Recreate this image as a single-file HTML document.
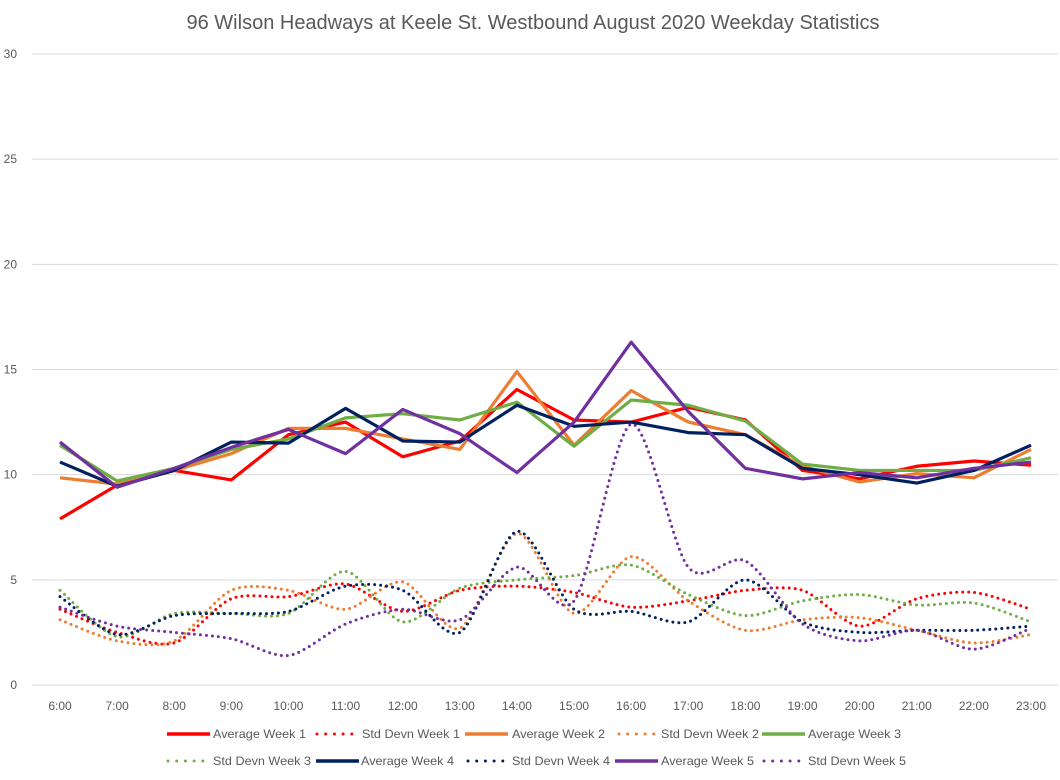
<!DOCTYPE html>
<html><head><meta charset="utf-8"><style>
body{margin:0;background:#fff;font-family:"Liberation Sans",Arial,sans-serif;}
svg text{font-family:"Liberation Sans",Arial,sans-serif;fill:#595959;}
</style></head><body>
<svg id="chart" width="1060" height="775" viewBox="0 0 1060 775" xmlns="http://www.w3.org/2000/svg">
<text x="533" y="29" text-anchor="middle" font-size="20">96 Wilson Headways at Keele St. Westbound August 2020 Weekday Statistics</text>
<g id="grid"></g><g id="series"></g><g id="legend"></g>
</svg>
<script>
const categories=["6:00","7:00","8:00","9:00","10:00","11:00","12:00","13:00","14:00","15:00","16:00","17:00","18:00","19:00","20:00","21:00","22:00","23:00"];
const yTicks=[0,5,10,15,20,25,30];
const avgWeek1=[7.9,9.5,10.2,9.75,11.9,12.5,10.85,11.6,14.05,12.6,12.5,13.2,12.6,10.2,9.8,10.4,10.65,10.45];
const avgWeek2=[9.85,9.55,10.2,11.0,12.2,12.2,11.7,11.2,14.9,11.4,14.0,12.5,11.9,10.4,9.65,10.05,9.85,11.2];
const avgWeek3=[11.4,9.7,10.3,11.2,11.7,12.7,12.9,12.6,13.45,11.35,13.55,13.3,12.55,10.5,10.2,10.2,10.2,10.8];
const avgWeek4=[10.6,9.45,10.2,11.55,11.5,13.15,11.6,11.55,13.3,12.3,12.5,12.0,11.9,10.3,10.0,9.6,10.2,11.4];
const avgWeek5=[11.55,9.4,10.3,11.3,12.15,11.0,13.1,11.95,10.1,12.5,16.3,13.0,10.3,9.8,10.1,9.85,10.3,10.6];
const sdWeek1=[3.6,2.5,2.0,4.1,4.2,4.8,3.5,4.5,4.7,4.4,3.7,4.0,4.5,4.5,2.8,4.1,4.4,3.6];
const sdWeek2=[3.1,2.1,2.1,4.5,4.5,3.6,4.9,2.7,7.2,3.4,6.1,4.0,2.6,3.1,3.2,2.6,2.0,2.4];
const sdWeek3=[4.5,2.3,3.4,3.4,3.4,5.4,3.0,4.6,5.0,5.2,5.7,4.3,3.3,4.0,4.3,3.8,3.9,3.0];
const sdWeek4=[4.2,2.4,3.3,3.4,3.5,4.7,4.5,2.5,7.3,3.6,3.5,3.0,5.0,3.0,2.5,2.6,2.6,2.8];
const sdWeek5=[3.7,2.8,2.5,2.2,1.4,2.9,3.6,3.1,5.6,4.0,12.4,5.6,5.9,2.9,2.1,2.6,1.7,2.7];

const NS="http://www.w3.org/2000/svg";
const x0=60,x1=1031,yBase=685,yTop=54,yMax=30;
const xs=i=>x0+i*(x1-x0)/(categories.length-1);
const ys=v=>yBase-v*(yBase-yTop)/yMax;
function mk(tag,attrs,parent){const e=document.createElementNS(NS,tag);for(const k in attrs)e.setAttribute(k,attrs[k]);parent.appendChild(e);return e;}
const grid=document.getElementById('grid');
yTicks.forEach(t=>{
  const l=mk('line',{x1:32,x2:1058,y1:ys(t),y2:ys(t),stroke:'#d9d9d9','stroke-width':1},grid);
  
  
  const tx=mk('text',{x:17,y:ys(t)+4,'text-anchor':'end','font-size':12},grid);
  tx.textContent=t;
  
  
});
categories.forEach((c,i)=>{
  const tx=mk('text',{x:xs(i),y:710,'text-anchor':'middle','font-size':12},grid);
  tx.textContent=c;
  
  
});
function smooth(pts){
  let d='M'+pts[0][0]+','+pts[0][1];
  for(let i=0;i<pts.length-1;i++){
    const p0=pts[Math.max(0,i-1)],p1=pts[i],p2=pts[i+1],p3=pts[Math.min(pts.length-1,i+2)];
    const t=7;
    d+=' C'+(p1[0]+(p2[0]-p0[0])/t)+','+(p1[1]+(p2[1]-p0[1])/t)+' '+(p2[0]-(p3[0]-p1[0])/t)+','+(p2[1]-(p3[1]-p1[1])/t)+' '+p2[0]+','+p2[1];
  }
  return d;
}
const series=[
 ['std-devn-week-1',sdWeek1,'#FF0000',true],
 ['std-devn-week-2',sdWeek2,'#ED7D31',true],
 ['std-devn-week-3',sdWeek3,'#70AD47',true],
 ['std-devn-week-4',sdWeek4,'#002060',true],
 ['std-devn-week-5',sdWeek5,'#7030A0',true],
 ['average-week-1',avgWeek1,'#FF0000',false],
 ['average-week-2',avgWeek2,'#ED7D31',false],
 ['average-week-3',avgWeek3,'#70AD47',false],
 ['average-week-4',avgWeek4,'#002060',false],
 ['average-week-5',avgWeek5,'#7030A0',false]];
const sg=document.getElementById('series');
series.forEach(([n,vals,col,dot])=>{
  const pts=vals.map((v,i)=>[xs(i),ys(v)]);
  let p;
  if(dot){p=mk('path',{d:smooth(pts),fill:'none',stroke:col,'stroke-width':3,'stroke-dasharray':'0 6','stroke-linecap':'round'},sg);}
  else{p=mk('polyline',{points:pts.map(q=>q.join(',')).join(' '),fill:'none',stroke:col,'stroke-width':3.2,'stroke-linejoin':'round'},sg);}
  
  
});
const legendItems=[
 ['Average Week 1','#FF0000',false,167,213,734],['Std Devn Week 1','#FF0000',true,316,362,734],
 ['Average Week 2','#ED7D31',false,465,512,734],['Std Devn Week 2','#ED7D31',true,618,661,734],
 ['Average Week 3','#70AD47',false,762,808,734],
 ['Std Devn Week 3','#70AD47',true,167,213,761],['Average Week 4','#002060',false,316,361,761],
 ['Std Devn Week 4','#002060',true,467,512,761],['Average Week 5','#7030A0',false,615,661,761],
 ['Std Devn Week 5','#7030A0',true,763,808,761]];
const lg=document.getElementById('legend');
legendItems.forEach(([label,col,dot,x,tx,y])=>{
  const g=mk('g',{},lg);
  
  
  let a;
  if(dot){a={x1:x+1,x2:x+36,y1:y,y2:y,stroke:col,'stroke-width':3,'stroke-dasharray':'0 8.7','stroke-linecap':'round'};}
  else{a={x1:x,x2:x+43,y1:y,y2:y,stroke:col,'stroke-width':3.5};}
  mk('line',a,g);
  const t=mk('text',{x:tx,y:y+4,'font-size':12,textLength:(label.startsWith('Std')?98:93),lengthAdjust:'spacingAndGlyphs'},g);
  t.textContent=label;
});
</script>
</body></html>
